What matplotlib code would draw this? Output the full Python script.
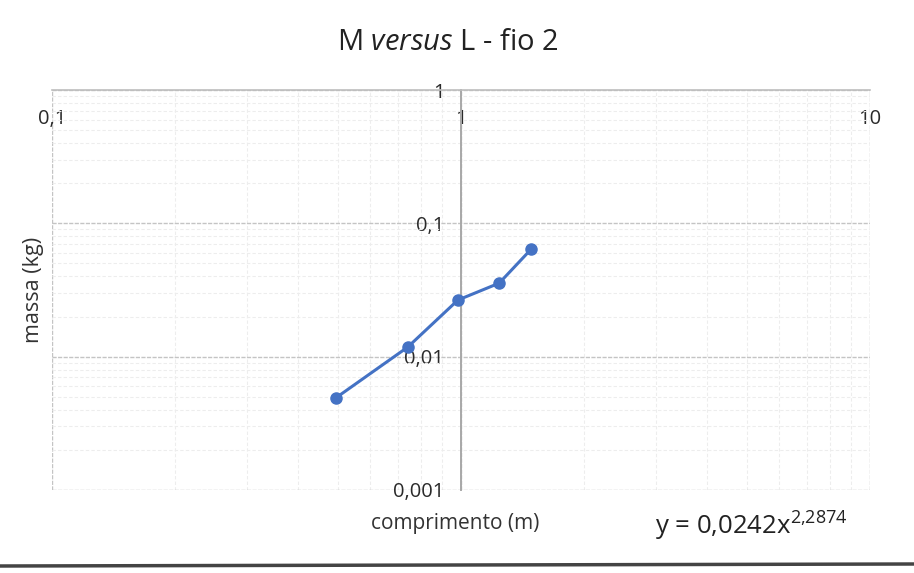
import numpy as np
import matplotlib.pyplot as plt
from matplotlib.ticker import FixedLocator, FuncFormatter, LogLocator, NullFormatter

plt.rcParams['font.family'] = ['Open Sans', 'DejaVu Sans']
plt.rcParams['mathtext.fontset'] = 'custom'
plt.rcParams['mathtext.rm'] = 'Open Sans'
plt.rcParams['mathtext.it'] = 'Open Sans:italic'

# data
comprimento = [0.494, 0.741, 0.983, 1.24, 1.485]
massa = [0.0049, 0.0118, 0.0266, 0.0356, 0.0641]
x_ticks = [0.1, 1, 10]
y_ticks = [0.001, 0.01, 0.1, 1]

def virgula(v, pos=None):
    return ('%g' % v).replace('.', ',')

fig = plt.figure(figsize=(9.14, 5.73), dpi=100)
ax = fig.add_axes([52/914, 1-490/573, (870-52)/914, (490-90)/573])

ax.plot(comprimento, massa, color='#4472c4', lw=2.2, marker='o', ms=8, zorder=3)

ax.set_xscale('log')
ax.set_yscale('log')
ax.set_xlim(0.1, 10)
ax.set_ylim(0.001, 1)

# grid
ax.xaxis.set_major_locator(FixedLocator(x_ticks))
ax.yaxis.set_major_locator(FixedLocator(y_ticks))
ax.xaxis.set_minor_locator(LogLocator(base=10, subs=np.arange(2, 10)))
ax.yaxis.set_minor_locator(LogLocator(base=10, subs=np.arange(2, 10)))
ax.xaxis.set_minor_formatter(NullFormatter())
ax.yaxis.set_minor_formatter(NullFormatter())
ax.grid(True, which='major', color='#c4c4c4', lw=1.0, ls=(0, (3, 1)))
ax.grid(True, which='minor', color='#ededed', lw=0.8, ls=(0, (3, 2)))

# axes cross at x=1 and y=1
for s in ['right', 'top']:
    ax.spines[s].set_visible(False)
ax.spines['left'].set_position(('data', 1))
ax.spines['bottom'].set_position(('data', 1))
ax.spines['left'].set_color('#a8a8a8')
ax.spines['left'].set_linewidth(1.4)
ax.spines['bottom'].set_color('#bdbdbd')
ax.spines['bottom'].set_linewidth(1.2)

ax.xaxis.set_major_formatter(FuncFormatter(virgula))
ax.yaxis.set_major_formatter(FuncFormatter(virgula))
ax.tick_params(axis='x', which='both', length=0, pad=14, labelsize=14.5, colors='#2a2a2a')
ax.tick_params(axis='y', which='both', length=0, pad=12, labelsize=14.5, colors='#2a2a2a')

fig.text(455/914, 1-523/573, 'comprimento (m)', ha='center', va='center', fontsize=15, color='#333333')
fig.text(33/914, 1-290/573, 'massa (kg)', ha='center', va='center', rotation=90, fontsize=15.5, color='#333333')

fig.text(448/914, 1-42/573, r'M $\mathit{versus}$ L - fio 2', ha='center', va='center', fontsize=21, color='#222222')

fig.text(655/914, 1-526/573, r'y = 0,0242x$^{\mathrm{2{,}2874}}$', ha='left', va='center', fontsize=18.5, color='#222222')

# border line at the bottom of the picture
fig.add_artist(plt.Line2D([0, 1], [1-566/573, 1-564/573], color='#444444', lw=2.5))

fig.savefig('out.png', dpi=100)
